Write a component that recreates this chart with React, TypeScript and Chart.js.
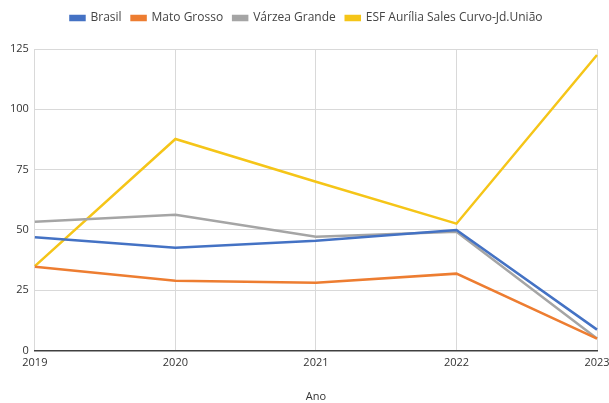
import React, { useEffect, useRef } from "react";
import { Chart, registerables } from "chart.js";

Chart.register(...registerables);

const categories = ["2019", "2020", "2021", "2022", "2023"];
const brasil = [47, 42.6, 45.5, 50, 8.7];
const matoGrosso = [34.8, 29, 28.1, 31.9, 5];
const varzeaGrande = [53.4, 56.3, 47.2, 49.3, 5];
const esf = [35, 87.7, 70, 52.6, 122.5];
const seriesNames = ["Brasil", "Mato Grosso", "Várzea Grande", "ESF Aurília Sales Curvo-Jd.União"];
const colors = ["#4472c4", "#ed7d31", "#a5a5a5", "#f5c518"];

const legendSpacer = {
  id: "legendSpacer",
  beforeInit(chart: any) {
    const orig = chart.legend.fit;
    chart.legend.fit = function () {
      orig.call(this);
      this.height += 15;
    };
  },
};

export default function App() {
  const ref = useRef<HTMLCanvasElement | null>(null);
  useEffect(() => {
    document.body.style.margin = "0";
    const ctx = ref.current!;
    const data = [brasil, matoGrosso, varzeaGrande, esf];
    const chart = new Chart(ctx, {
      type: "line",
      data: {
        labels: categories,
        datasets: data.map((d, i) => ({
          label: seriesNames[i],
          data: d,
          borderColor: colors[i],
          backgroundColor: colors[i],
          borderWidth: 2.5,
          pointRadius: 0,
          tension: 0,
        })),
      },
      plugins: [legendSpacer],
      options: {
        animation: false,
        responsive: false,
        maintainAspectRatio: false,
        layout: { padding: { left: 4, right: 0, top: 2, bottom: 0 } },
        plugins: {
          legend: {
            position: "top",
            labels: {
              boxWidth: 14,
              boxHeight: 4,
              padding: 10,
              color: "#444",
              font: { family: "Open Sans", size: 12 },
            },
          },
          tooltip: { enabled: false },
        },
        scales: {
          x: {
            offset: false,
            afterFit: (scale: any) => {
              scale.paddingRight = 12;
            },
            grid: { color: "#d9d9d9", drawTicks: false },
            border: { color: "#404040", width: 1.5 },
            ticks: {
              color: "#333",
              padding: 6,
              maxRotation: 0,
              font: { family: "Open Sans", size: 11 },
            },
            title: {
              display: true,
              text: "Ano",
              color: "#333",
              font: { family: "Open Sans", size: 11 },
              padding: { top: 14, bottom: 0 },
            },
          },
          y: {
            min: 0,
            max: 125,
            ticks: {
              stepSize: 25,
              color: "#333",
              padding: 6,
              font: { family: "Open Sans", size: 11 },
            },
            grid: { color: "#d9d9d9", drawTicks: false },
            border: { display: false },
          },
        },
      },
    });
    return () => chart.destroy();
  }, []);
  return (
    <div style={{ width: 609, height: 403 }}>
      <canvas ref={ref} width={609} height={403} />
    </div>
  );
}
